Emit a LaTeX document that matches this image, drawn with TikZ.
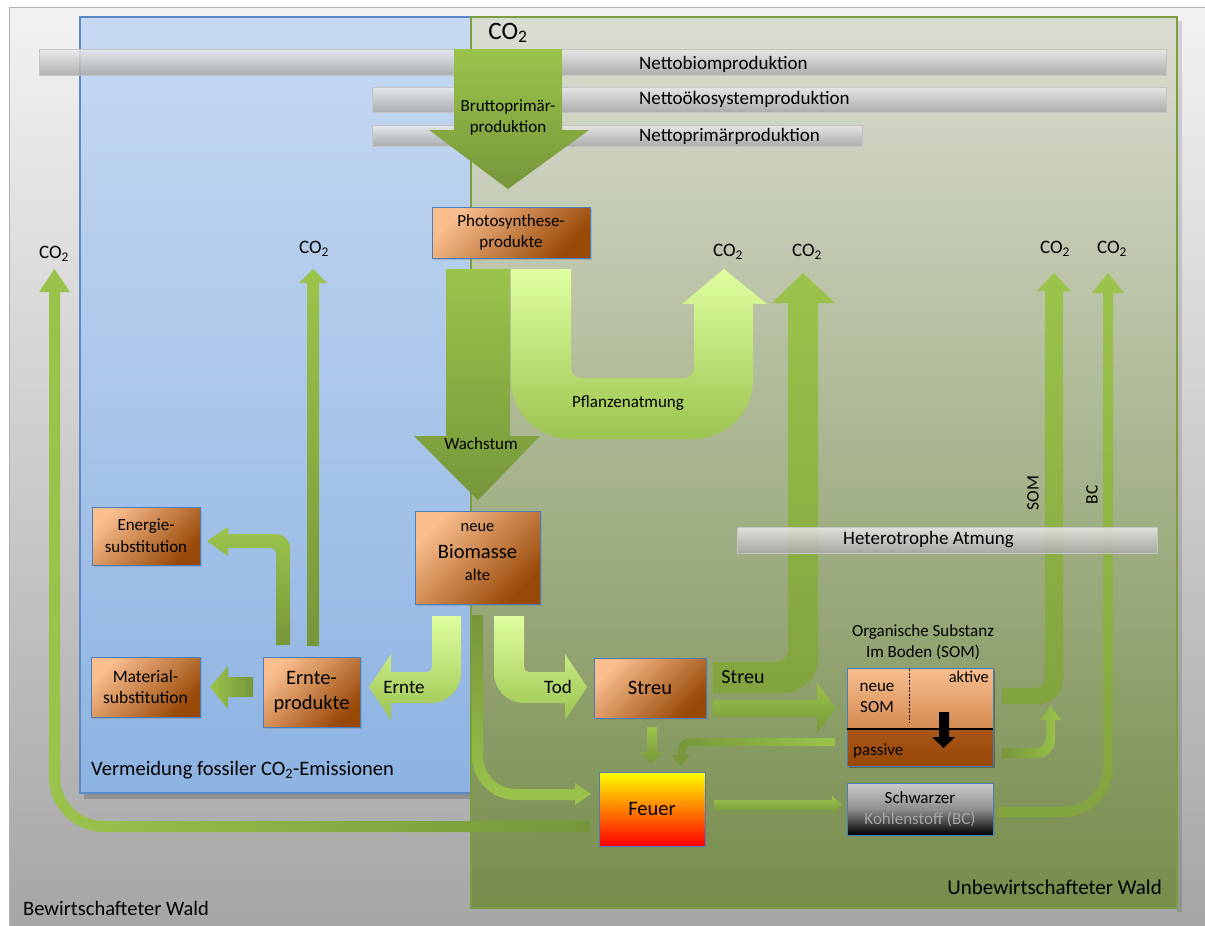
\documentclass[tikz,border=0pt]{standalone}
\usepackage{fontspec}
\setmainfont{Carlito}
\usetikzlibrary{shadows}
\definecolor{bgT}{HTML}{F2F2F2}
\definecolor{bgB}{HTML}{A6A6A6}
\definecolor{blT}{HTML}{C6D9F1}
\definecolor{blB}{HTML}{8DB3E2}
\definecolor{blE}{HTML}{5B8AC6}
\definecolor{grT}{HTML}{DADDD2}
\definecolor{grB}{HTML}{768C4B}
\definecolor{grE}{HTML}{7A9E40}
\definecolor{barT}{HTML}{EAEAEA}
\definecolor{barB}{HTML}{A8A8A8}
\definecolor{barE}{HTML}{C4C4C4}
\definecolor{gA}{HTML}{9BC44C}
\definecolor{gD}{HTML}{76963A}
\definecolor{gL}{HTML}{E0FFA0}
\definecolor{gM}{HTML}{9CC450}
\definecolor{oL}{HTML}{FABE8E}
\definecolor{oD}{HTML}{984807}
\definecolor{bxE}{HTML}{4A7EBB}
\definecolor{somT}{HTML}{F9BE8F}
\definecolor{somM}{HTML}{D48A50}
\definecolor{somB}{HTML}{A9561A}
\definecolor{somC}{HTML}{984807}
\definecolor{bcT}{HTML}{CCCCCC}
\definecolor{bcM}{HTML}{8E8E8E}
\definecolor{bcTxt}{HTML}{A6A6A6}
\newcommand{\fsz}[2]{\fontsize{#1}{#2}\selectfont}
\newcommand{\cotwo}{CO\textsubscript{2}}
\begin{document}
\begin{tikzpicture}[x=1pt,y=-1pt,
  box/.style={draw=bxE, line width=0.8pt, top color=oL, bottom color=oD, shading angle=45,
    inner sep=0pt, align=center, drop shadow={opacity=0.35,shadow xshift=2pt,shadow yshift=-2pt}},
  lbl/.style={inner sep=0pt, align=center},
  bar/.style={draw=barE, line width=0.6pt, top color=barT, bottom color=barB, fill opacity=0.85},
  gTB/.style={top color=gA, bottom color=gD},
  gBT/.style={top color=gD, bottom color=gA},
  gLR/.style={left color=gA, right color=gD},
  gRL/.style={left color=gD, right color=gA},
  lTB/.style={top color=gL, bottom color=gM},
]
\useasboundingbox (0,0) rectangle (1205,926);
% background panels
\fill[white] (0,0) rectangle (1205,926);
\path[top color=bgT, bottom color=bgB] (9,7) rectangle (1205,926);
\draw[gray!60, line width=0.8pt] (9,926) -- (9,7) -- (1205,7);
\fill[black, opacity=0.18] (84,793) rectangle (471,799);
\path[draw=blE, line width=1.2pt, top color=blT, bottom color=blB] (80,17) rectangle (471,793);
\fill[black, opacity=0.12] (1177,21) rectangle (1182,912);
\path[draw=grE, line width=1.2pt, top color=grT, bottom color=grB] (471,17) rectangle (1177,908);

% bottom long arrow Feuer -> CO2 (left)
\path[gLR] (590,821) -- (104,821) arc[start angle=90,end angle=180,radius=44] -- (60,292) -- (70,292) -- (54.5,269) -- (39,292) -- (49,292) -- (49,777) arc[start angle=180,end angle=90,radius=55] -- (590,832) -- cycle;
% Ernteprodukte -> CO2
\path[gTB] (307,646) -- (307,283) -- (299,283) -- (313,269) -- (327,283) -- (319,283) -- (319,646) -- cycle;
% Ernteprodukte -> Energiesubstitution
\path[gTB] (276,645) -- (276,553) arc[start angle=0,end angle=-90,radius=5] -- (228,548) -- (228,556) -- (207,541) -- (228,527) -- (228,534) -- (276,534) arc[start angle=-90,end angle=0,radius=14] -- (290,645) -- cycle;
% Ernteprodukte -> Materialsubstitution
\path[gLR] (253,677) -- (228,677) -- (228,666) -- (210,687) -- (228,709) -- (228,697) -- (253,697) -- cycle;
% Ernte arrow
\path[lTB] (432,616) -- (461,616) -- (461,673) arc[start angle=0,end angle=90,radius=30] -- (391,703) -- (391,720) -- (369,687) -- (391,654) -- (391,672) -- (427,672) arc[start angle=90,end angle=0,radius=5] -- cycle;
% Tod arrow
\path[lTB] (494,616) -- (524,616) -- (524,667) arc[start angle=180,end angle=90,radius=5] -- (565,672) -- (565,654) -- (587,687) -- (565,720) -- (565,703) -- (524,703) arc[start angle=90,end angle=180,radius=30] -- cycle;
% Biomasse -> Feuer
\path[gBT] (472,615) -- (483,615) -- (483,756) arc[start angle=180,end angle=90,radius=33] -- (575,789) -- (575,783) -- (591,794) -- (575,805) -- (575,800) -- (516,800) arc[start angle=90,end angle=180,radius=44] -- cycle;
% Streu -> Feuer
\path[gTB] (647,727) -- (657,727) -- (657,752) -- (663,752) -- (651.5,764) -- (640,752) -- (647,752) -- cycle;
% SOM -> Feuer
\path[gRL] (835,738) -- (690,738) arc[start angle=-90,end angle=-180,radius=12] -- (678,755) -- (672,755) -- (681,767) -- (690,755) -- (686,755) -- (686,750) arc[start angle=180,end angle=270,radius=4] -- (835,746) -- cycle;
% Streu -> SOM
\path[gTB] (713,700) -- (817,700) -- (817,683) -- (836,708) -- (817,733) -- (817,717) -- (713,717) -- cycle;
% Feuer -> BC
\path[gTB] (714,800) -- (832,800) -- (832,796) -- (842,805) -- (832,814) -- (832,810) -- (714,810) -- cycle;
% Streu -> CO2 (heterotrophic)
\path[top color=gA, bottom color=gD!70!gA] (713,662) -- (776,662) arc[start angle=90,end angle=0,radius=12] -- (788,303) -- (772,303) -- (803,273) -- (835,303) -- (818,303) -- (818,658) arc[start angle=0,end angle=90,radius=35] -- (713,693) -- cycle;
% SOM aktive -> CO2
\path[top color=gA, bottom color=gD!70!gA] (1002,688) -- (1035,688) arc[start angle=90,end angle=0,radius=10] -- (1045,291) -- (1037,291) -- (1054,273) -- (1071,291) -- (1063,291) -- (1063,679) arc[start angle=0,end angle=90,radius=25] -- (1002,704) -- cycle;
% passive -> aktive
\path[gRL] (1002,748) -- (1036,748) arc[start angle=90,end angle=0,radius=10] -- (1046,720) -- (1040,720) -- (1050.5,706) -- (1061,720) -- (1055,720) -- (1055,740) arc[start angle=0,end angle=90,radius=18] -- (1002,758) -- cycle;
% BC -> CO2
\path[top color=gA, bottom color=gD!70!gA] (997,807) -- (1063,807) arc[start angle=90,end angle=0,radius=40] -- (1103,293) -- (1092,293) -- (1108,273) -- (1124,293) -- (1113,293) -- (1113,767) arc[start angle=0,end angle=90,radius=50] -- (997,817) -- cycle;
% Pflanzenatmung U arrow
\path[lTB] (511,269) -- (571,269) -- (571,368) arc[start angle=180,end angle=90,radius=10] -- (684,378) arc[start angle=90,end angle=0,radius=10] -- (694,304) -- (682,304) -- (724,269) -- (767,304) -- (753,304) -- (753,379) arc[start angle=0,end angle=90,radius=60] -- (571,439) arc[start angle=90,end angle=180,radius=60] -- cycle;
% Wachstum arrow
\path[gTB] (446,269) -- (510,269) -- (510,436) -- (540,436) -- (478,500) -- (414,436) -- (446,436) -- cycle;

% bars
\path[bar] (39,49) rectangle (1166,75);
\path[bar] (372,87) rectangle (1166,112);
\path[bar] (372,125) rectangle (862,146);
\path[bar] (737,527) rectangle (1157,553);
\node[lbl, anchor=west, font=\fsz{19}{22}] (nbp) at (639,64) {Nettobiomproduktion};
\node[lbl, anchor=west, font=\fsz{19}{22}] (nep) at (639,99) {Nettoökosystemproduktion};
\node[lbl, anchor=west, font=\fsz{19}{22}] (npp) at (639,136) {Nettoprimärproduktion};
\node[lbl, anchor=west, font=\fsz{19}{22}] (het) at (843,540) {Heterotrophe Atmung};

% Bruttoprimaerproduktion arrow
\path[gTB] (454,49) -- (562,49) -- (562,130) -- (589,130) -- (508,189) -- (429,130) -- (454,130) -- cycle;
\node[lbl, font=\fsz{17}{21}] (gpp) at (508,118) {Bruttoprimär-\\produktion};

% boxes
\node[box, minimum width=158pt, minimum height=51pt, font=\fsz{17}{21}] (photo) at (511,232.5) {Photosynthese-\\produkte};
\node[box, minimum width=125pt, minimum height=93pt] (bio) at (477.5,557.5) {};
\node[lbl, font=\fsz{16.5}{20}] (bioN) at (477.5,528) {neue};
\node[lbl, font=\fsz{20.5}{24}] (bioB) at (477.5,552) {Biomasse};
\node[lbl, font=\fsz{16.5}{20}] (bioA) at (477.5,575) {alte};
\node[box, minimum width=108pt, minimum height=58pt, font=\fsz{17}{22}] (energie) at (146,536) {Energie-\\substitution};
\node[box, minimum width=109pt, minimum height=60pt, font=\fsz{17.5}{21}] (material) at (145.5,687) {Material-\\substitution};
\node[box, minimum width=97pt, minimum height=70pt, font=\fsz{20.5}{25}] (ernte) at (311.5,692) {Ernte-\\produkte};
\node[box, minimum width=112pt, minimum height=60pt, font=\fsz{20.5}{24}] (streu) at (650,688) {Streu};
\node[box, top color=yellow, bottom color=red, middle color=orange, shading angle=0, minimum width=106pt, minimum height=74pt, font=\fsz{20.5}{24}] (feuer) at (652,809) {Feuer};
% SOM box
\fill[black, opacity=0.3] (849,670) rectangle (995,768);
\path[top color=somT, bottom color=somM] (847,668) rectangle (993,729);
\path[top color=somB, bottom color=somC] (847,729) rectangle (993,766);
\node[draw=bxE, line width=0.8pt, minimum width=146pt, minimum height=98pt, inner sep=0pt] (som) at (920,717) {};
\draw[line width=1.5pt] (som.west |- 0,729) -- (som.east |- 0,729);
\draw[line width=0.6pt, dash pattern=on 2pt off 1.5pt] (909,669) -- (909,723);
\fill[black] (939,712) -- (949,712) -- (949,737) -- (955,737) -- (943.5,748) -- (932,737) -- (939,737) -- cycle;
\node[lbl, font=\fsz{17}{20}] (somN) at (877,687) {neue};
\node[lbl, font=\fsz{17}{20}] (somS) at (877,707) {SOM};
\node[lbl, anchor=east, font=\fsz{16.5}{20}] (somAk) at (989,677) {aktive};
\node[lbl, anchor=west, font=\fsz{17}{20}] (somPa) at (853,751) {passive};
\node[lbl, font=\fsz{17}{21}] (somT) at (923,642.5) {Organische Substanz\\Im Boden (SOM)};
% BC box
\node[box, top color=bcT, bottom color=black, middle color=bcM, shading angle=0, minimum width=146pt, minimum height=52pt] (bc) at (920,809) {};
\node[lbl, font=\fsz{17}{20}] (bcS) at (920,798) {Schwarzer};
\node[lbl, font=\fsz{17}{20}, text=bcTxt] (bcK) at (920,819) {Kohlenstoff (BC)};

% arrow labels
\node[lbl, font=\fsz{17}{20}] (wachs) at (481,444) {Wachstum};
\node[lbl, font=\fsz{17}{20}] (pflanz) at (628,403) {Pflanzenatmung};
\node[lbl, font=\fsz{19}{22}] (ernteL) at (404,687) {Ernte};
\node[lbl, font=\fsz{19}{22}] (todL) at (558,687) {Tod};
\node[lbl, font=\fsz{20}{22}] (streuL) at (743,677) {Streu};
\node[lbl, rotate=90, font=\fsz{17.5}{20}] (somR) at (1033,493) {SOM};
\node[lbl, rotate=90, font=\fsz{17.5}{20}] (bcR) at (1092,495) {BC};

% CO2 labels
\node[lbl, font=\fsz{25}{28}] (co2top) at (508,33) {\cotwo};
\node[lbl, font=\fsz{19}{22}] (co2a) at (54,254) {\cotwo};
\node[lbl, font=\fsz{19}{22}] (co2b) at (314,249) {\cotwo};
\node[lbl, font=\fsz{19}{22}] (co2c) at (728,252) {\cotwo};
\node[lbl, font=\fsz{19}{22}] (co2d) at (807,252) {\cotwo};
\node[lbl, font=\fsz{19}{22}] (co2e) at (1055,249) {\cotwo};
\node[lbl, font=\fsz{19}{22}] (co2f) at (1112,249) {\cotwo};

% region labels
\node[lbl, anchor=west, font=\fsz{20.5}{24}] (vermeid) at (91,770) {Vermeidung fossiler \cotwo-Emissionen};
\node[lbl, anchor=west, font=\fsz{20.5}{24}] (bew) at (23,908) {Bewirtschafteter Wald};
\node[lbl, anchor=east, font=\fsz{21}{24}] (unbew) at (1162,887) {Unbewirtschafteter Wald};
\end{tikzpicture}
\end{document}
